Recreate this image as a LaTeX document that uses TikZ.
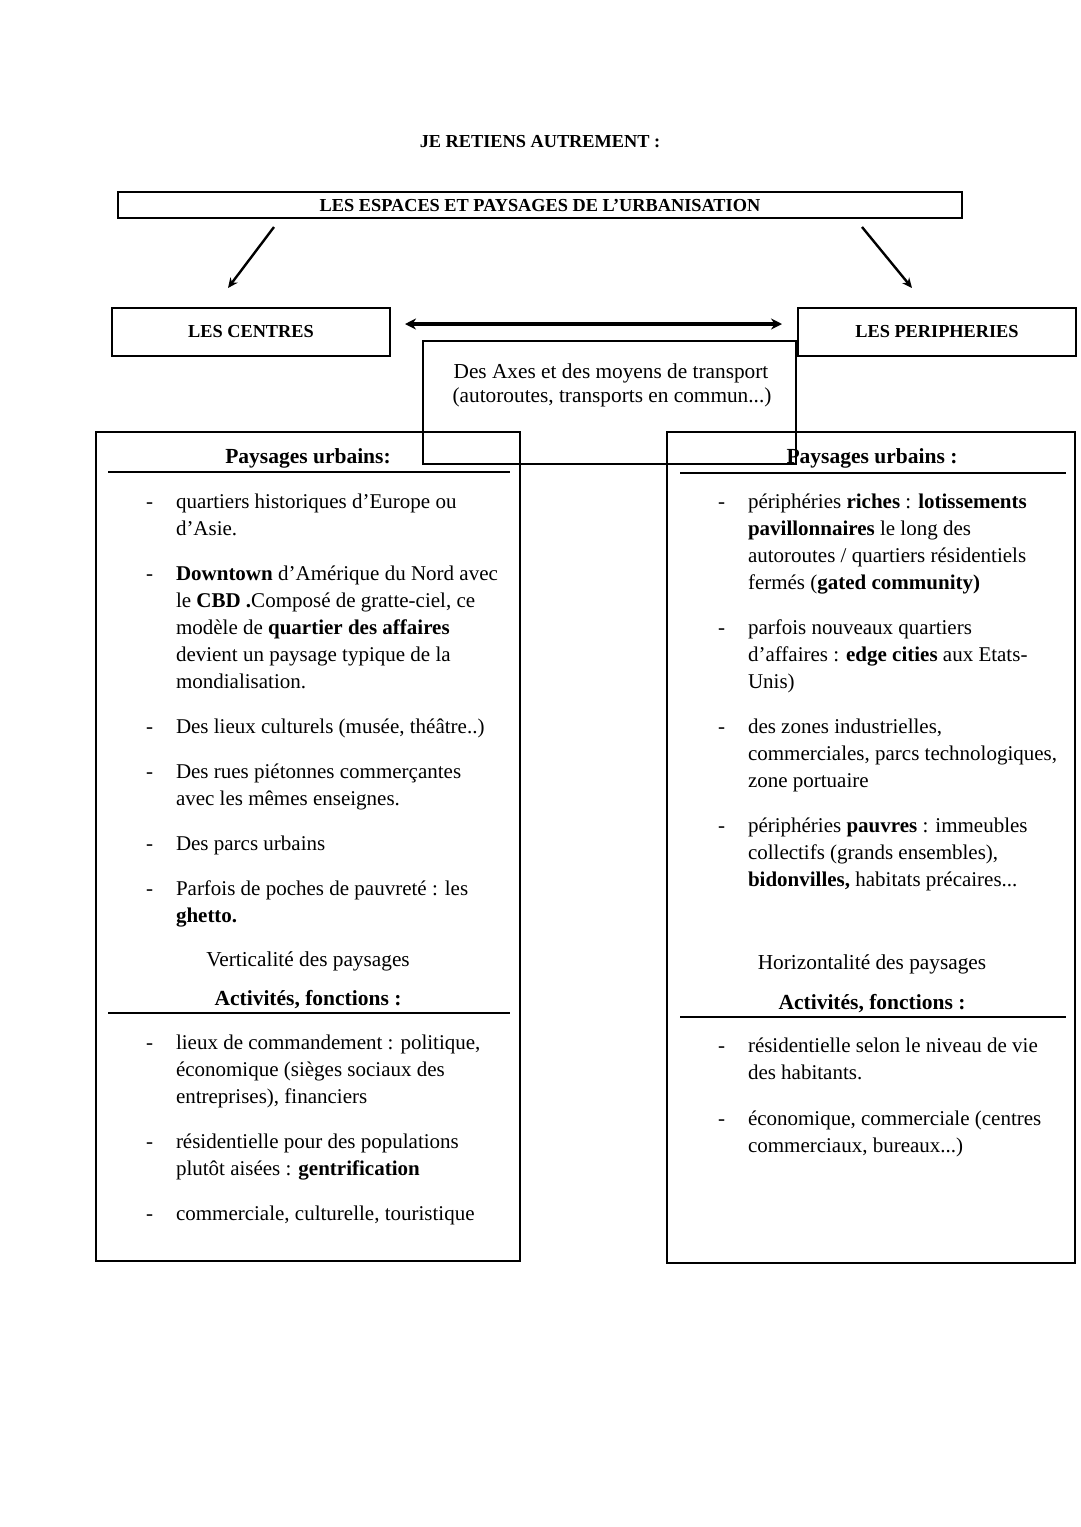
\documentclass[tikz,border=0pt]{standalone}
\usepackage{fontspec}
\setmainfont{Liberation Serif}
\usetikzlibrary{arrows.meta}
\begin{document}
\begin{tikzpicture}[x=1pt,y=-1pt,
  every node/.style={inner sep=0pt, outer sep=0pt},
  body/.style={font=\fontsize{21}{27}\selectfont, align=left, anchor=north west},
  dashmark/.style={font=\fontsize{21}{27}\selectfont, anchor=north west},
  head/.style={font=\bfseries\fontsize{21.5}{27}\selectfont, anchor=base},
  caps/.style={font=\bfseries\fontsize{18.3}{27}\selectfont, anchor=base},
  plain/.style={font=\fontsize{21.3}{27}\selectfont, anchor=base},
  boxed/.style={draw, line width=1.3pt, font=\bfseries\fontsize{18.3}{27}\selectfont},
  frame/.style={draw, line width=1.3pt},
  rule/.style={line width=1.8pt},
  arr/.style={line width=2.4pt, -{Stealth[length=10pt,width=9pt]}},
  darr/.style={line width=3.4pt, {Stealth[length=11pt,width=11pt]}-{Stealth[length=11pt,width=11pt]}}
]
\useasboundingbox (0,0) rectangle (1080,1527);
\fill[white] (0,0) rectangle (1080,1527);

% title
\node[caps] (title) at (540,147) {JE RETIENS AUTREMENT :};

% top box
\node[boxed, minimum width=844pt, minimum height=26pt] (top) at (540,205) {LES ESPACES ET PAYSAGES DE L’URBANISATION};

% centres / peripheries
\node[boxed, minimum width=278pt, minimum height=48pt] (centres) at (251,332) {LES CENTRES};
\node[boxed, minimum width=278pt, minimum height=48pt] (peri) at (937,332) {LES PERIPHERIES};

% arrows
\coordinate (a1s) at (274,227);
\coordinate (a1e) at (228,288);
\coordinate (a2s) at (862,227);
\coordinate (a2e) at (912,288);
\coordinate (d1) at (405,324);
\coordinate (d2) at (782,324);
\draw[arr] (a1s) -- (a1e);
\draw[arr] (a2s) -- (a2e);
\draw[darr] (d1) -- (d2);

% big frames
\draw[frame] (96,432) rectangle (520,1261);
\draw[frame] (667,432) rectangle (1075,1263);

% transport box
\draw[frame] (423,341) rectangle (796,464);
\node[plain] (tr1) at (611,378) {Des Axes et des moyens de transport};
\node[plain] (tr2) at (612,402) {(autoroutes, transports en commun...)};

% ---------- left column ----------
\node[head] (lh1) at (308,463) {Paysages urbains:};
\draw[rule] (108,472) -- (510,472);

\node[dashmark] (ld1) at (146,490) {\strut-};
\node[body] (li1) at (176,490) {\strut quartiers historiques d’Europe ou\\d’Asie.};
\node[dashmark] (ld2) at (146,562) {\strut-};
\node[body] (li2) at (176,562) {\strut\textbf{Downtown} d’Amérique du Nord avec\\le \textbf{CBD .}Composé de gratte-ciel, ce\\modèle de \textbf{quartier des affaires}\\devient un paysage typique de la\\mondialisation.};
\node[dashmark] (ld3) at (146,715) {\strut-};
\node[body] (li3) at (176,715) {\strut Des lieux culturels (musée, théâtre..)};
\node[dashmark] (ld4) at (146,760) {\strut-};
\node[body] (li4) at (176,760) {\strut Des rues piétonnes commerçantes\\avec les mêmes enseignes.};
\node[dashmark] (ld5) at (146,832) {\strut-};
\node[body] (li5) at (176,832) {\strut Des parcs urbains};
\node[dashmark] (ld6) at (146,877) {\strut-};
\node[body] (li6) at (176,877) {\strut Parfois de poches de pauvreté : les\\\textbf{ghetto.}};

\node[plain] (lv) at (308,966) {Verticalité des paysages};
\node[head] (lh2) at (308,1005) {Activités, fonctions :};
\draw[rule] (108,1013) -- (510,1013);

\node[dashmark] (ld7) at (146,1031) {\strut-};
\node[body] (li7) at (176,1031) {\strut lieux de commandement : politique,\\économique (sièges sociaux des\\entreprises), financiers};
\node[dashmark] (ld8) at (146,1130) {\strut-};
\node[body] (li8) at (176,1130) {\strut résidentielle pour des populations\\plutôt aisées : \textbf{gentrification}};
\node[dashmark] (ld9) at (146,1202) {\strut-};
\node[body] (li9) at (176,1202) {\strut commerciale, culturelle, touristique};

% ---------- right column ----------
\node[head] (rh1) at (872,463) {Paysages urbains :};
\draw[rule] (680,473) -- (1066,473);

\node[dashmark] (rd1) at (718,490) {\strut-};
\node[body] (ri1) at (748,490) {\strut périphéries \textbf{riches} : \textbf{lotissements}\\\textbf{pavillonnaires} le long des\\autoroutes / quartiers résidentiels\\fermés (\textbf{gated community)}};
\node[dashmark] (rd2) at (718,616) {\strut-};
\node[body] (ri2) at (748,616) {\strut parfois nouveaux quartiers\\d’affaires : \textbf{edge cities} aux Etats-\\Unis)};
\node[dashmark] (rd3) at (718,715) {\strut-};
\node[body] (ri3) at (748,715) {\strut des zones industrielles,\\commerciales, parcs technologiques,\\zone portuaire};
\node[dashmark] (rd4) at (718,814) {\strut-};
\node[body] (ri4) at (748,814) {\strut périphéries \textbf{pauvres} : immeubles\\collectifs (grands ensembles),\\\textbf{bidonvilles,} habitats précaires...};

\node[plain] (rv) at (872,969) {Horizontalité des paysages};
\node[head] (rh2) at (872,1009) {Activités, fonctions :};
\draw[rule] (680,1017) -- (1066,1017);

\node[dashmark] (rd5) at (718,1034) {\strut-};
\node[body] (ri5) at (748,1034) {\strut résidentielle selon le niveau de vie\\des habitants.};
\node[dashmark] (rd6) at (718,1107) {\strut-};
\node[body] (ri6) at (748,1107) {\strut économique, commerciale (centres\\commerciaux, bureaux...)};
\end{tikzpicture}
\end{document}
